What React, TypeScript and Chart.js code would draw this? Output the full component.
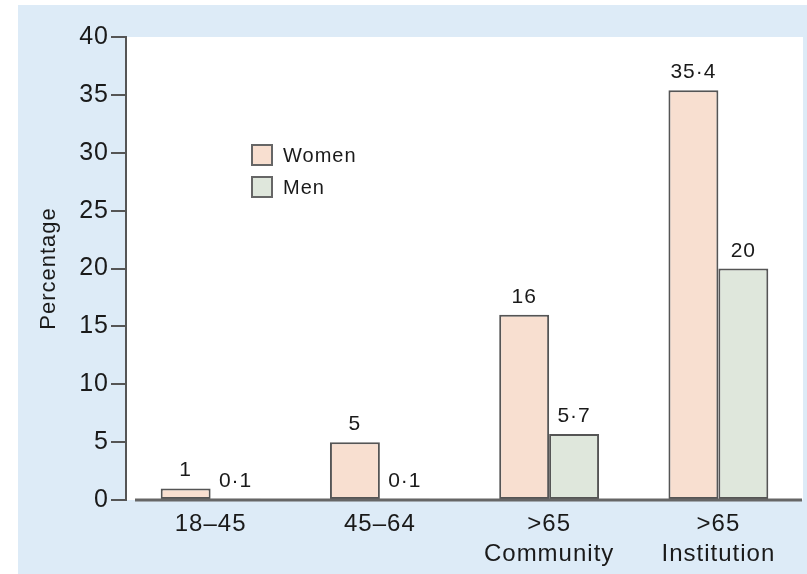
import React, { useEffect, useRef } from "react";
import { Chart, registerables } from "chart.js";

Chart.register(...registerables);

const categories: string[][] = [["18–45"], ["45–64"], [">65", "Community"], [">65", "Institution"]];
const seriesNames = ["Women", "Men"];
const womenValues = [1, 5, 16, 35.4];
const menValues = [0.1, 0.1, 5.7, 20];
const yMin = 0;
const yMax = 40;
const yStep = 5;
const yTitle = "Percentage";

const FONT = "'Liberation Sans', Arial, Helvetica, sans-serif";
const WOMEN_FILL = "#f8dfd0";
const MEN_FILL = "#dfe7dc";
const EDGE = "#555555";

const fmt = (v: number) => String(v).replace(".", "·");

const decorPlugin = {
  id: "decor",
  beforeLayout(chart: any) {
    chart.ctx.letterSpacing = "1px";
  },
  beforeDraw(chart: any) {
    const { ctx, chartArea: a } = chart;
    ctx.letterSpacing = "1px";
    ctx.save();
    ctx.fillStyle = "#ffffff";
    ctx.fillRect(a.left, a.top, a.right - a.left, a.bottom - a.top);
    ctx.restore();
  },
  afterDatasetsDraw(chart: any) {
    const { ctx, chartArea: a } = chart;
    const y0 = chart.scales.y.getPixelForValue(0);
    ctx.save();
    // baseline
    ctx.strokeStyle = "#666666";
    ctx.lineWidth = 3;
    ctx.beginPath();
    ctx.moveTo(a.left + 9, y0);
    ctx.lineTo(a.right - 1, y0);
    ctx.stroke();
    // value labels
    ctx.font = `21px ${FONT}`;
    ctx.fillStyle = "#1a1a1a";
    ctx.textAlign = "center";
    ctx.textBaseline = "alphabetic";
    chart.data.datasets.forEach((ds: any, di: number) => {
      const meta = chart.getDatasetMeta(di);
      meta.data.forEach((el: any, i: number) => {
        ctx.fillText(fmt(ds.data[i] as number), el.x, el.y - 12);
      });
    });
    // legend
    const lx = a.left + 126;
    const ly = a.top + 108;
    const box = 20;
    const gap = 32;
    ctx.font = `20px ${FONT}`;
    ctx.textAlign = "left";
    ctx.textBaseline = "middle";
    chart.data.datasets.forEach((ds: any, di: number) => {
      const by = ly + di * gap;
      ctx.fillStyle = ds.backgroundColor;
      ctx.fillRect(lx, by, box, box);
      ctx.strokeStyle = "#666666";
      ctx.lineWidth = 2;
      ctx.strokeRect(lx, by, box, box);
      ctx.fillStyle = "#1a1a1a";
      ctx.fillText(ds.label, lx + 31, by + box / 2 + 1);
    });
    ctx.restore();
  },
};

export default function App() {
  const ref = useRef<HTMLCanvasElement | null>(null);

  useEffect(() => {
    if (!ref.current) return;
    const chart = new Chart(ref.current, {
      type: "bar",
      data: {
        labels: categories,
        datasets: [
          {
            label: seriesNames[0],
            data: womenValues,
            backgroundColor: WOMEN_FILL,
            borderColor: EDGE,
            borderWidth: 2,
            borderSkipped: false,
            categoryPercentage: 0.59,
            barPercentage: 1,
          },
          {
            label: seriesNames[1],
            data: menValues,
            backgroundColor: MEN_FILL,
            borderColor: EDGE,
            borderWidth: 2,
            borderSkipped: false,
            categoryPercentage: 0.59,
            barPercentage: 1,
          },
        ],
      },
      options: {
        animation: false,
        responsive: false,
        devicePixelRatio: 1,
        layout: { padding: { top: 32, right: 4, left: 0, bottom: 0 } },
        plugins: {
          legend: { display: false },
          tooltip: { enabled: false },
          title: { display: false },
        },
        scales: {
          x: {
            grid: { display: false, drawTicks: false },
            border: { display: false },
            ticks: {
              color: "#1a1a1a",
              font: { family: FONT, size: 24, lineHeight: 1.25 },
              padding: 9,
              maxRotation: 0,
              autoSkip: false,
            },
            afterFit: (s: any) => {
              s.height = 74;
            },
          },
          y: {
            min: yMin,
            max: yMax,
            grid: {
              drawOnChartArea: false,
              drawTicks: true,
              tickLength: 15,
              color: EDGE,
              lineWidth: 2,
            },
            border: { display: true, color: EDGE, width: 2 },
            ticks: {
              stepSize: yStep,
              color: "#1a1a1a",
              font: { family: FONT, size: 25 },
              padding: 2,
            },
            title: {
              display: true,
              text: yTitle,
              color: "#1a1a1a",
              font: { family: FONT, size: 22 },
              padding: { top: 18, bottom: 0 },
            },
            afterFit: (s: any) => {
              s.width = 108;
            },
          },
        },
      },
      plugins: [decorPlugin],
    });
    return () => chart.destroy();
  }, []);

  return (
    <div
      style={{
        position: "absolute",
        left: 18,
        top: 5,
        width: 789,
        height: 569,
        background: "#ddebf7",
      }}
    >
      <canvas ref={ref} width={789} height={569} style={{ display: "block" }} />
    </div>
  );
}
